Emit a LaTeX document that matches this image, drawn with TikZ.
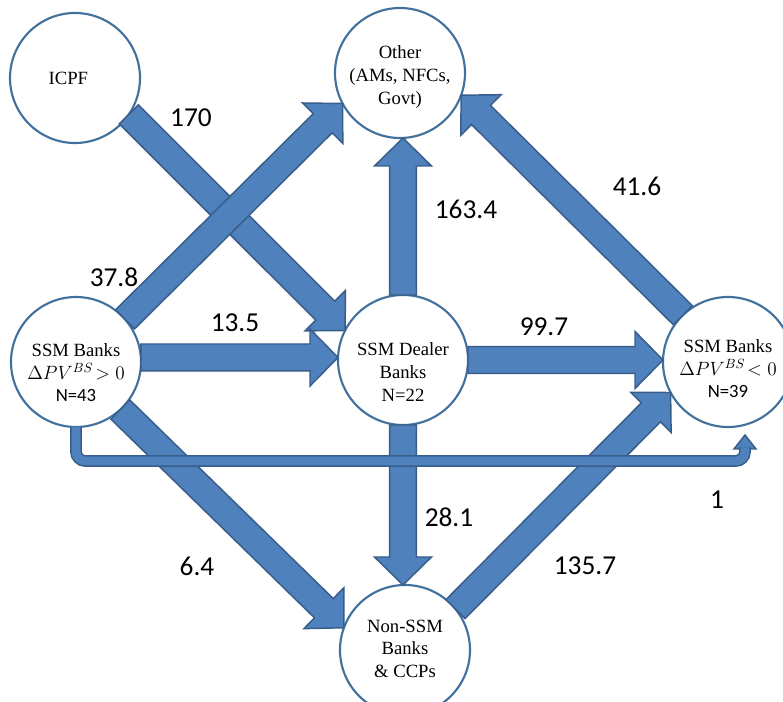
\documentclass[tikz,border=0pt]{standalone}
\usepackage{fontspec}
\setmainfont{Liberation Serif}
\setsansfont{Carlito}
\usetikzlibrary{calc}

\definecolor{flowfill}{RGB}{79,129,189}
\definecolor{flowline}{RGB}{56,93,138}
\definecolor{ringline}{RGB}{65,113,156}

% block arrow sizes
\newcommand{\shaftw}{10.1pt}
\newcommand{\headw}{21.4pt}
\newcommand{\headlen}{21pt}

% block arrow from #1 to #2
\newcommand{\flowarrow}[2]{%
  \coordinate (hb) at ($(#2)!\headlen!(#1)$);
  \draw[flow] ($(#1)!\shaftw!90:(#2)$) -- ($(hb)!\shaftw!90:(#2)$)
    -- ($(hb)!\headw!90:(#2)$) -- (#2) -- ($(hb)!\headw!-90:(#2)$)
    -- ($(hb)!\shaftw!-90:(#2)$) -- ($(#1)!\shaftw!-90:(#2)$) -- cycle;
}

\tikzset{every picture/.style={line width=0.75pt}}
\tikzset{
  ring/.style={circle, draw=ringline, line width=1.6pt, fill=white,
    minimum size=97.5pt, inner sep=0pt, outer sep=0pt},
  ringtext/.style={align=center, inner sep=0.75pt,
    font=\fontsize{14}{17}\selectfont},
  flow/.style={draw=flowline, fill=flowfill, line width=1.1pt},
  oneflow/.style={draw=flowline, line width=1.1pt, double=flowfill,
    double distance=6.6pt, rounded corners=7pt},
  amount/.style={inner sep=0.75pt, font=\sffamily\fontsize{20.5}{24}\selectfont},
}

\begin{document}
\begin{tikzpicture}[x=0.75pt,y=0.75pt,yscale=-1,xscale=1]
\useasboundingbox (0,0) rectangle (783,702);

% Circles
\node[ring] (icpf) at (75,78) {};
\node[ring] (other) at (400,73) {};
\node[ring] (pos) at (76,362) {};
\node[ring] (dealer) at (403,360) {};
\node[ring] (neg) at (728,362) {};
\node[ring] (nonssm) at (405,650) {};

% Circle texts (y grows downwards here)
\node[ringtext] (icpftext) at ([xshift=-5pt]icpf) {ICPF};
\node[ringtext] (othertext) at ([yshift=3pt]other) {Other\\(AMs, NFCs,\\Govt)};
\node[ringtext] (postext) at ([yshift=8pt]pos) {SSM Banks\\$\Delta PV^{BS}\!>0$\\{\sffamily N=43}};
\node[ringtext] (dealertext) at ([yshift=9pt]dealer) {SSM Dealer\\Banks\\N=22};
\node[ringtext] (negtext) at ([yshift=5pt]neg) {SSM Banks\\$\Delta PV^{BS}\!<0$\\{\sffamily N=39}};
\node[ringtext] (nonssmtext) at ([yshift=-1pt]nonssm) {Non-SSM\\Banks\\\& CCPs};

% Flows
\coordinate (t135) at (pos.4 -| dealer.west);
\coordinate (t163) at (dealer.north |- other.south);
\coordinate (t997) at (dealer.east -| neg.west);
\coordinate (t281) at (dealer.south |- nonssm.north);

\flowarrow{icpf.-34}{dealer.153}
\flowarrow{pos.41}{other.208}
\flowarrow{pos.4}{t135}
\flowarrow{dealer.north}{t163}
\flowarrow{dealer.east}{t997}
\flowarrow{neg.134}{other.-20}
\flowarrow{dealer.south}{t281}
\flowarrow{pos.-47}{nonssm.160}
\flowarrow{nonssm.39}{neg.208}

% Bent flow
\coordinate (onetip) at (745,435);
\draw[flow] (onetip) -- ++(-11,14) -- ++(22,0) -- cycle;
\draw[oneflow] (pos.south) |- ($(onetip)+(0,26)$) -- ($(onetip)+(0,12.5)$);

% Text Node
\node[amount] (a170) at (191,118) {170};
\node[amount] (a378) at (114,277) {37.8};
\node[amount] (a135) at (235,323) {13.5};
\node[amount] (a1634) at (466,209) {163.4};
\node[amount] (a416) at (637,186) {41.6};
\node[amount] (a997) at (544,327) {99.7};
\node[amount] (a281) at (449,517) {28.1};
\node[amount] (a1357) at (585,566) {135.7};
\node[amount] (a64) at (197,566) {6.4};
\node[amount] (a1) at (717,500) {1};

\end{tikzpicture}
\end{document}
